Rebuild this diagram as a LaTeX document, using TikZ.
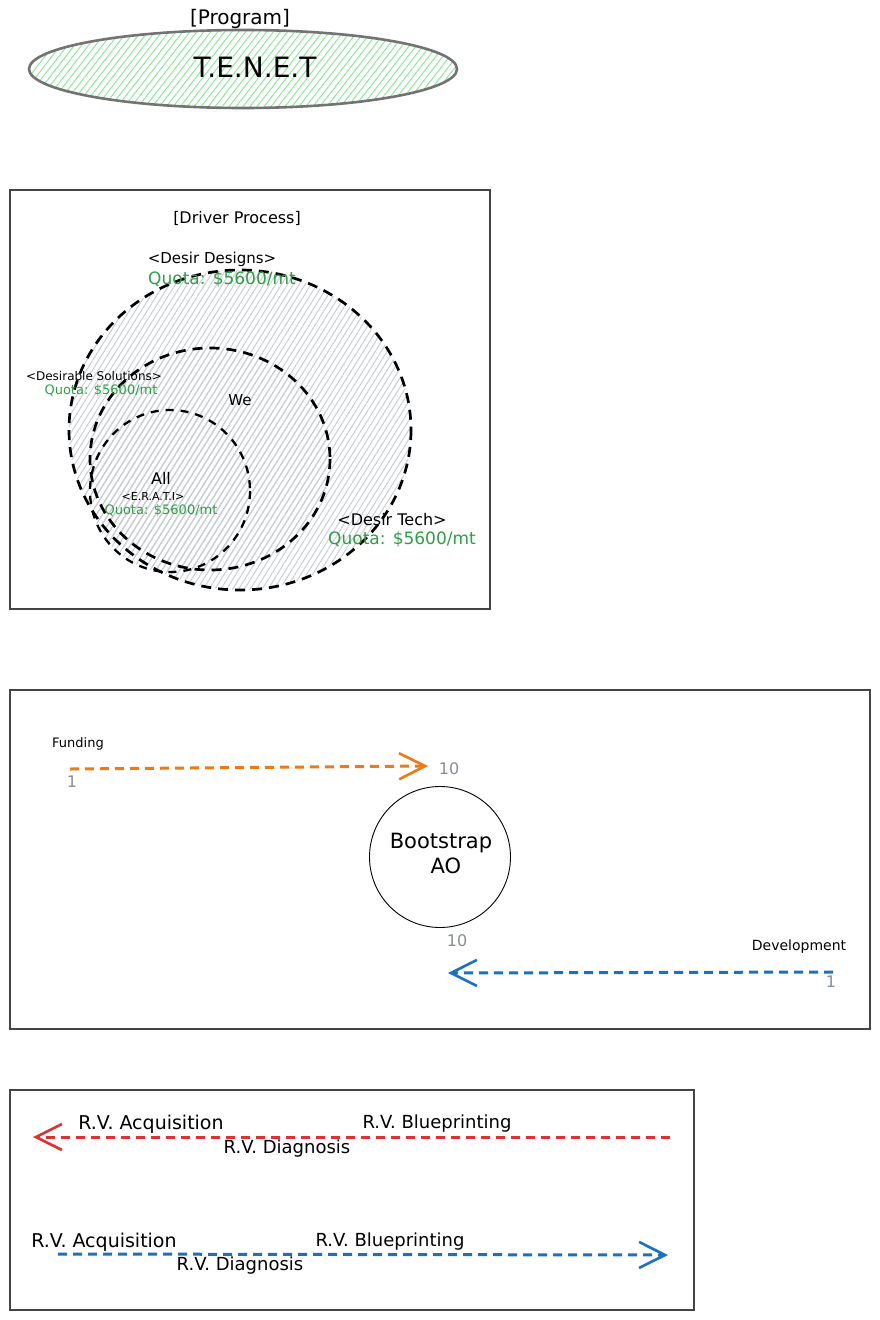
\documentclass[tikz,border=0pt]{standalone}
\usepackage{fontspec}
\setmainfont{DejaVu Sans}
\usetikzlibrary{arrows.meta,patterns.meta}
\definecolor{hatchgreen}{HTML}{8CE99A}
\definecolor{hatchgray}{HTML}{C9CFD6}
\definecolor{qgreen}{HTML}{2F9E44}
\definecolor{numgray}{HTML}{868E96}
\definecolor{aorange}{HTML}{EE7A12}
\definecolor{ablue}{HTML}{1971C2}
\definecolor{ared}{HTML}{E03131}
\definecolor{framegray}{HTML}{444444}
\newcommand{\fs}[1]{\fontsize{#1}{#1}\selectfont}
\begin{document}
\begin{tikzpicture}[x=1pt,y=-1pt,
  frame/.style={draw=framegray, line width=1.4pt},
  txt/.style={inner sep=0pt, anchor=center, text=black},
  quota/.style={inner sep=0pt, anchor=center, text=qgreen},
  num/.style={inner sep=0pt, anchor=center, text=numgray},
  grayhatch/.style={pattern={Lines[angle=58,distance=5pt,line width=1pt]}, pattern color=hatchgray},
  bigdash/.style={draw=black, line width=2.7pt, dash pattern=on 10pt off 7pt},
  smalldash/.style={draw=black, line width=2.3pt, dash pattern=on 8pt off 7pt},
  flow/.style={line width=3pt, dash pattern=on 9pt off 6pt},
  barb/.style={-{Straight Barb[length=26pt,width=26pt,line width=2.6pt]}}
]
\useasboundingbox (0,0) rectangle (880,1320);
\fill[white] (0,0) rectangle (880,1320);

% ---------- Program ellipse ----------
\path[pattern={Lines[angle=52,distance=5.5pt,line width=1pt]}, pattern color=hatchgreen]
  (243,69) ellipse [x radius=214, y radius=39];
\draw[draw=gray!90!black, line width=2.6pt] (243,69) ellipse [x radius=214, y radius=39];
\node[txt] (prog) at (240,19) {\fs{20}[Program]};
\node[txt] (tenet) at (255,67) {\fs{28}T.E.N.E.T};

% ---------- Driver Process ----------
\draw[frame] (10,190) rectangle (490,609);
\node[txt] (dp) at (237,218) {\fs{16}[Driver Process]};
\path[grayhatch] (240,430) ellipse [x radius=171, y radius=160];
\path[grayhatch] (210,459) ellipse [x radius=120, y radius=111];
\path[grayhatch] (170,491) ellipse [x radius=80, y radius=81];
\draw[bigdash] (240,430) ellipse [x radius=171, y radius=160];
\draw[bigdash] (210,459) ellipse [x radius=120, y radius=111];
\draw[smalldash] (170,491) ellipse [x radius=80, y radius=81];

\node[txt] (dd) at (212,259) {\fs{15}<Desir Designs>};
\node[quota] (ddq) at (222,279) {\fs{17}Quota: \$5600/mt};
\node[txt] (ds) at (94,376) {\fs{12}<Desirable Solutions>};
\node[quota] (dsq) at (101,391) {\fs{13}Quota: \$5600/mt};
\node[txt] (we) at (240,400) {\fs{15}We};
\node[txt] (all) at (161,478) {\fs{16}All};
\node[txt] (erati) at (153,496) {\fs{11}<E.R.A.T.I>};
\node[quota] (eq) at (161,511) {\fs{13}Quota: \$5600/mt};
\node[txt] (dt) at (392,520) {\fs{16}<Desir Tech>};
\node[quota] (dtq) at (402,539) {\fs{17}Quota: \$5600/mt};

% ---------- Bootstrap ----------
\draw[frame] (10,690) rectangle (870,1029);
\node[draw=black, line width=0.9pt, circle, minimum size=141pt, inner sep=0pt] (boot) at (440,857) {};
\node[txt] (bt1) at (441,843) {\fs{21}Bootstrap};
\node[txt] (bt2) at (446,866) {\fs{21}AO};

\coordinate (fs) at (70,769);
\coordinate (fe) at (428,766);
\draw[flow, draw=aorange, barb] (fs) -- (fe);
\node[txt] (fund) at (78,744) {\fs{13}Funding};
\node[num] (f1) at (72,782) {\fs{16}1};
\node[num] (f10) at (449,769) {\fs{16}10};

\coordinate (ds1) at (833,972);
\coordinate (de1) at (448,973);
\draw[flow, draw=ablue, barb] (ds1) -- (de1);
\node[txt] (dev) at (799,947) {\fs{14}Development};
\node[num] (d1) at (831,982) {\fs{16}1};
\node[num] (d10) at (457,941) {\fs{16}10};

% ---------- R.V. ----------
\draw[frame] (10,1090) rectangle (694,1310);
\coordinate (rs) at (670,1137);
\coordinate (re) at (33,1137);
\draw[flow, draw=ared, barb] (rs) -- (re);
\node[txt] (ra) at (151,1124) {\fs{19}R.V. Acquisition};
\node[txt] (rd) at (287,1149) {\fs{18}R.V. Diagnosis};
\node[txt] (rb) at (437,1124) {\fs{18}R.V. Blueprinting};

\coordinate (bs) at (58,1254);
\coordinate (be) at (668,1255);
\draw[flow, draw=ablue, barb] (bs) -- (be);
\node[txt] (ba) at (104,1242) {\fs{19}R.V. Acquisition};
\node[txt] (bd) at (240,1266) {\fs{18}R.V. Diagnosis};
\node[txt] (bb) at (390,1242) {\fs{18}R.V. Blueprinting};
\end{tikzpicture}
\end{document}
